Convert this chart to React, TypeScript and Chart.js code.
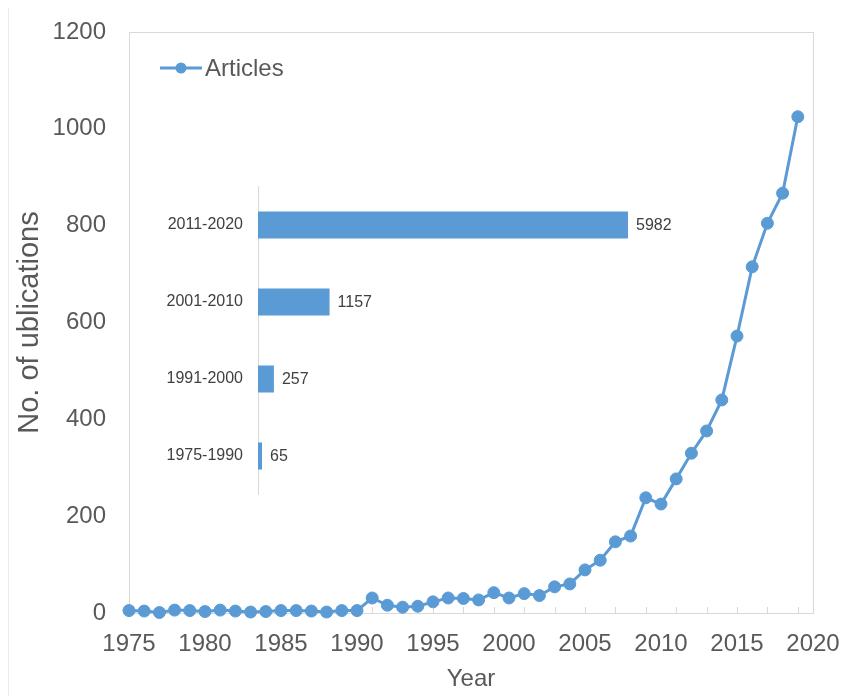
import React, { useEffect, useRef } from 'react';
import { Chart, registerables } from 'chart.js';

Chart.register(...registerables);

// ---- Data ----
const years = [
  1975, 1976, 1977, 1978, 1979, 1980, 1981, 1982, 1983, 1984,
  1985, 1986, 1987, 1988, 1989, 1990, 1991, 1992, 1993, 1994,
  1995, 1996, 1997, 1998, 1999, 2000, 2001, 2002, 2003, 2004,
  2005, 2006, 2007, 2008, 2009, 2010, 2011, 2012, 2013, 2014,
  2015, 2016, 2017, 2018, 2019,
];
const articles = [
  5, 4, 1, 6, 5, 3, 6, 4, 2, 3,
  5, 5, 4, 2, 5, 5, 31, 16, 12, 14,
  23, 31, 30, 27, 42, 31, 40, 36, 54, 60,
  89, 109, 147, 159, 238, 225, 277, 330, 376, 440,
  572, 715, 805, 867, 1025,
];
const seriesName = 'Articles';
const xTitle = 'Year';
const yTitle = 'No. of ublications';

const decades = ['1975-1990', '1991-2000', '2001-2010', '2011-2020'];
const decadeTotals = [65, 257, 1157, 5982];

// ---- Styles ----
const BLUE = '#5B9BD5';
const GRAY_TEXT = '#595959';
const DARK_TEXT = '#404040';
const FRAME = '#d9d9d9';
const FONT = '"Liberation Sans", Arial, sans-serif';

const framePlugin = {
  id: 'framePlugin',
  beforeDatasetsDraw(chart: any) {
    const { ctx, chartArea, scales } = chart;
    const { left, top, right, bottom } = chartArea;
    ctx.save();
    // faint outer border on the left
    ctx.strokeStyle = '#ebebeb';
    ctx.lineWidth = 1;
    ctx.beginPath();
    ctx.moveTo(8.5, 8);
    ctx.lineTo(8.5, chart.height);
    ctx.stroke();
    // plot frame
    ctx.strokeStyle = FRAME;
    ctx.strokeRect(Math.round(left) + 0.5, Math.round(top) + 0.5, Math.round(right - left), Math.round(bottom - top));
    // minor tick marks on x axis (odd years)
    ctx.beginPath();
    years.filter((yr) => yr % 2 === 1).forEach((yr) => {
      const px = Math.round(scales.x.getPixelForValue(yr)) + 0.5;
      ctx.moveTo(px, bottom);
      ctx.lineTo(px, bottom - 6);
    });
    ctx.stroke();
    ctx.restore();
  },
  afterDatasetsDraw(chart: any) {
    const { ctx } = chart;
    ctx.save();
    const y = 68;
    ctx.strokeStyle = BLUE;
    ctx.lineWidth = 3;
    ctx.beginPath();
    ctx.moveTo(160, y);
    ctx.lineTo(202, y);
    ctx.stroke();
    ctx.fillStyle = BLUE;
    ctx.beginPath();
    ctx.arc(181, y, 5.5, 0, Math.PI * 2);
    ctx.fill();
    ctx.fillStyle = GRAY_TEXT;
    ctx.font = `24px ${FONT}`;
    ctx.textBaseline = 'middle';
    ctx.textAlign = 'left';
    ctx.fillText(seriesName, 205, y + 1);
    ctx.restore();
  },
};

const valueLabelPlugin = {
  id: 'valueLabelPlugin',
  afterDatasetsDraw(chart: any) {
    const { ctx } = chart;
    const meta = chart.getDatasetMeta(0);
    ctx.save();
    ctx.fillStyle = DARK_TEXT;
    ctx.font = `16px ${FONT}`;
    ctx.textBaseline = 'middle';
    ctx.textAlign = 'left';
    meta.data.forEach((bar: any, i: number) => {
      ctx.fillText(String(decadeTotals[i]), bar.x + 8, bar.y + 1);
    });
    ctx.restore();
  },
};

export default function App() {
  const mainRef = useRef<HTMLCanvasElement | null>(null);
  const insetRef = useRef<HTMLCanvasElement | null>(null);

  useEffect(() => {
    document.body.style.margin = '0';
    if (!mainRef.current || !insetRef.current) return;

    const main = new Chart(mainRef.current, {
      type: 'line',
      data: {
        datasets: [
          {
            label: seriesName,
            data: years.map((yr, i) => ({ x: yr, y: articles[i] })),
            borderColor: BLUE,
            backgroundColor: BLUE,
            borderWidth: 3,
            pointRadius: 6,
            pointBorderWidth: 1,
            pointBackgroundColor: BLUE,
            pointBorderColor: BLUE,
            tension: 0,
            clip: false,
          },
        ],
      },
      options: {
        animation: false,
        responsive: true,
        maintainAspectRatio: false,
        layout: { padding: { top: 32, right: 32, bottom: 0, left: 0 } },
        plugins: { legend: { display: false }, tooltip: { enabled: false } },
        scales: {
          x: {
            type: 'linear',
            min: 1975,
            max: 2020,
            ticks: {
              stepSize: 5,
              maxRotation: 0,
              padding: 17,
              color: GRAY_TEXT,
              font: { family: FONT, size: 24 },
              callback: (v: any) => String(v),
            },
            grid: { display: false, drawTicks: false },
            border: { display: false },
            title: {
              display: true,
              text: xTitle,
              color: GRAY_TEXT,
              font: { family: FONT, size: 24 },
              padding: { top: 0, bottom: 2 },
            },
            afterFit(s: any) {
              s.height = 83;
              s.paddingLeft = 0;
              s.paddingRight = 0;
            },
          },
          y: {
            min: 0,
            max: 1200,
            ticks: {
              stepSize: 200,
              padding: 23,
              color: GRAY_TEXT,
              font: { family: FONT, size: 24 },
              callback: (v: any) => String(v),
            },
            grid: { display: false, drawTicks: false },
            border: { display: false },
            title: {
              display: true,
              text: yTitle,
              color: GRAY_TEXT,
              font: { family: FONT, size: 29 },
              padding: { top: 12.5, bottom: 0 },
            },
            afterFit(s: any) {
              s.width = 129;
              s.paddingTop = 0;
              s.paddingBottom = 0;
            },
          },
        },
      } as any,
      plugins: [framePlugin],
    });

    const inset = new Chart(insetRef.current, {
      type: 'bar',
      data: {
        labels: decades,
        datasets: [
          {
            data: decadeTotals,
            backgroundColor: BLUE,
            borderWidth: 0,
            barPercentage: 0.35,
            categoryPercentage: 1,
          },
        ],
      },
      options: {
        indexAxis: 'y',
        animation: false,
        responsive: true,
        maintainAspectRatio: false,
        layout: { padding: { top: 10.5, bottom: 11.5, left: 0, right: 47.2 } },
        plugins: { legend: { display: false }, tooltip: { enabled: false } },
        scales: {
          x: { display: false, min: 0, max: 8000 },
          y: {
            reverse: true,
            grid: { display: false, drawTicks: false },
            border: { display: true, color: FRAME, width: 1 },
            ticks: {
              padding: 15,
              color: DARK_TEXT,
              font: { family: FONT, size: 16 },
            },
            afterFit(s: any) {
              s.width = 118;
              s.paddingTop = 0;
              s.paddingBottom = 0;
            },
          },
        },
      } as any,
      plugins: [valueLabelPlugin],
    });

    return () => {
      main.destroy();
      inset.destroy();
    };
  }, []);

  return (
    <div style={{ position: 'relative', width: 845, height: 696, background: '#fff' }}>
      <canvas ref={mainRef} style={{ position: 'absolute', left: 0, top: 0 }} />
      <div style={{ position: 'absolute', left: 140, top: 176, width: 660, height: 330 }}>
        <canvas ref={insetRef} />
      </div>
    </div>
  );
}
